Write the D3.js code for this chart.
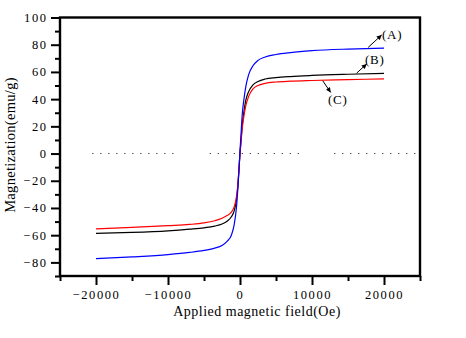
<!DOCTYPE html>
<html><head><meta charset="utf-8">
<script src="https://cdn.jsdelivr.net/npm/d3@7"></script>
<style>
body{margin:0;background:#fff}
svg{display:block}
text{font-family:"Liberation Serif","Times New Roman",serif;fill:#000}
</style>
</head><body><svg id="c" width="466" height="338"></svg>
<script>
// Applied field (Oe)
const fieldOe = [-20000,-15000,-10000,-7000,-5000,-3500,-2500,-1800,-1200,-800,-500,-300,-150,0,150,300,500,800,1200,1800,2500,3500,5000,7000,10000,15000,20000];
// Magnetization (emu/g)
const magA = [-77.3,-76.0,-74.3,-72.7,-71.2,-69.5,-67.5,-64.5,-60.0,-52,-40,-26,-13,2,15,28,38,49,58,64.5,68.5,71,72.8,74.2,75.6,76.8,77.5];
const magB = [-58.7,-58.0,-56.8,-55.6,-54.6,-53.3,-51.8,-49.8,-46.5,-42,-34,-24,-12,0,10,20,29,39,45.5,50.5,53,54.8,55.8,56.6,57.4,58.3,59];
const magC = [-55.3,-54.3,-53.0,-52.1,-51.0,-49.4,-47.6,-45.6,-43,-39,-32,-23,-12,0,9,18,26,35,42,47.5,50,51.6,52.6,53.2,53.7,54.3,54.9];
const seriesNames = ["(A)","(B)","(C)"];
const seriesColors = ["#0000ff","#000000","#ff0000"];
const xMajorTicks = [-20000,-10000,0,10000,20000];
const xMinorTicks = [-25000,-15000,-5000,5000,15000,25000];
const yMajorTicks = [-80,-60,-40,-20,0,20,40,60,80,100];
const yMinorTicks = [-90,-70,-50,-30,-10,10,30,50,70,90];
const zeroSegments = [[-20500,-8800],[-4200,8500],[13100,25000]];

const svg = d3.select("#c");
const x = d3.scaleLinear().domain([-25000,25000]).range([60,420]);
const y = d3.scaleLinear().domain([-90,100]).range([276,17.5]);

// marker
svg.append("defs").append("marker").attr("id","ah").attr("viewBox","0 0 10 10")
  .attr("refX",10).attr("refY",5).attr("markerWidth",7).attr("markerHeight",5)
  .attr("markerUnits","userSpaceOnUse").attr("orient","auto")
  .append("path").attr("d","M0,0L10,5L0,10Z").attr("fill","#000");

// zero dotted line
svg.append("g").selectAll("line").data(zeroSegments).join("line")
  .attr("x1",d=>x(d[0])).attr("x2",d=>x(d[1])).attr("y1",y(0)).attr("y2",y(0))
  .attr("stroke","#000").attr("stroke-width",1).attr("stroke-dasharray","1,7");

// curves
const line = d3.line().x((d,i)=>x(fieldOe[i])).y(d=>y(d)).curve(d3.curveMonotoneX);
const series = [magB, magC, magA];
const cols = [seriesColors[1], seriesColors[2], seriesColors[0]];
svg.append("g").selectAll("path").data(series).join("path")
  .attr("d",d=>line(d)).attr("fill","none").attr("stroke",(d,i)=>cols[i]).attr("stroke-width",1.2);

// axes
const xAxis = svg.append("g").attr("transform",`translate(0,${y(-90)})`)
  .call(d3.axisBottom(x).tickValues(xMajorTicks).tickSize(9).tickPadding(5).tickFormat(d3.format("d")));
svg.append("g").attr("transform",`translate(0,${y(-90)})`)
  .call(d3.axisBottom(x).tickValues(xMinorTicks).tickSize(5).tickFormat(""));
const yAxis = svg.append("g").attr("transform",`translate(${x(-25000)},0)`)
  .call(d3.axisLeft(y).tickValues(yMajorTicks).tickSize(9).tickPadding(5).tickFormat(d3.format("d")));
svg.append("g").attr("transform",`translate(${x(-25000)},0)`)
  .call(d3.axisLeft(y).tickValues(yMinorTicks).tickSize(5).tickFormat(""));
svg.selectAll(".domain").remove();
svg.selectAll(".tick line").attr("stroke","#000").attr("stroke-width",2);
svg.selectAll(".tick text").attr("font-family","Liberation Serif, serif").attr("font-size",12.5)
  .style("letter-spacing","1.6px").attr("fill","#000");
yAxis.selectAll(".tick text").attr("dx","1.6px");

// frame
svg.append("rect").attr("x",x(-25000)).attr("y",y(100)).attr("width",x(25000)-x(-25000))
  .attr("height",y(-90)-y(100)).attr("fill","none").attr("stroke","#000").attr("stroke-width",2.4);

// axis titles
svg.append("text").attr("x",257).attr("y",316).attr("text-anchor","middle")
  .attr("font-size",14).style("letter-spacing","0.5px").text("Applied magnetic field(Oe)");
svg.append("text").attr("transform","translate(15,145) rotate(-90)").attr("text-anchor","middle")
  .attr("font-size",14.5).style("letter-spacing","0.3px").text("Magnetization(emu/g)");

// annotations
const ann = [
  {from:[17800,78],to:[19680,87.2],lab:[19720,84]},
  {from:[16200,59.1],to:[17600,65.9],lab:[17360,66]},
  {from:[11490,53.5],to:[12600,44.9],lab:[12220,36.3]}
];
ann.forEach((a,i)=>{
  svg.append("line").attr("x1",x(a.from[0])).attr("y1",y(a.from[1])).attr("x2",x(a.to[0])).attr("y2",y(a.to[1]))
    .attr("stroke","#000").attr("stroke-width",1).attr("marker-end","url(#ah)");
  svg.append("text").attr("x",x(a.lab[0])).attr("y",y(a.lab[1])).attr("font-size",13)
    .style("letter-spacing","0.8px").text(seriesNames[i]);
});
</script>
</body></html>
